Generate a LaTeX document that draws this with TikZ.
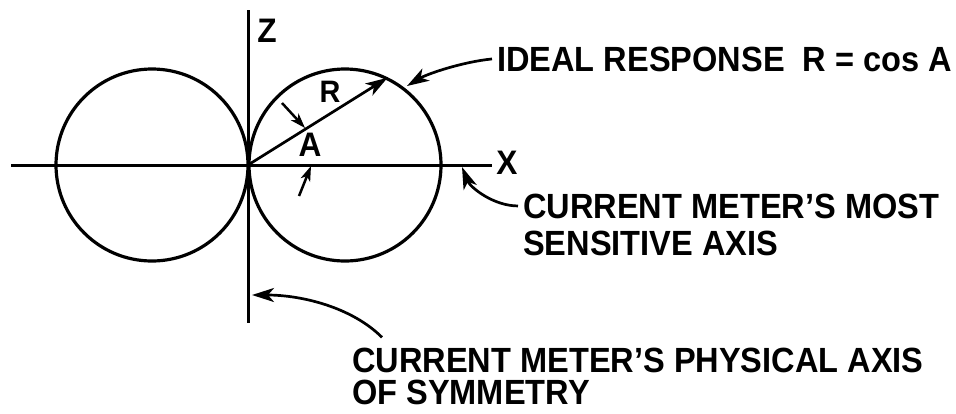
\documentclass[tikz,border=0pt]{standalone}
\usepackage{fontspec}
\setmainfont{Liberation Sans}[FakeStretch=0.93]
\usetikzlibrary{arrows.meta,positioning}

\begin{document}
\begin{tikzpicture}[x=1pt,y=-1pt,
    axis/.style={line width=3pt},
    lobe/.style={line width=3.2pt},
    ptr/.style={line width=2.7pt,-{Stealth[length=22pt,width=14pt,inset=6pt]}},
    tick/.style={line width=2.5pt,-{Stealth[length=15pt,width=10pt,inset=4pt]}},
    lbl/.style={inner xsep=5pt,inner ysep=0pt,anchor=base west,font=\fontsize{35}{40}\selectfont\bfseries},
    axlbl/.style={inner sep=0pt,font=\fontsize{34}{40}\selectfont\bfseries}]
  \useasboundingbox (0,0) rectangle (956,413);
  \coordinate (O) at (248,165);
  % axes and the two lobes
  \draw[axis] (11,165) -- (492,165);
  \draw[axis] (248,10) -- (248,323);
  \foreach \cx in {152,345}{\draw[lobe] (\cx,165) circle (96pt);}
  \node[axlbl] (zlab) at (267,31) {Z};
  \node[axlbl] (xlab) at (507,163) {X};
  % response vector and angle
  \coordinate (rtip) at ([shift={(-32:164.5)}]O);
  \draw[ptr] (O) -- (rtip);
  \node[axlbl,font=\fontsize{31}{36}\selectfont\bfseries] (rlab) at (330,92) {R};
  \node[axlbl] (alab) at (310,145) {A};
  \coordinate (atop) at (282,103);
  \coordinate (atoptip) at (305,128);
  \coordinate (abot) at (299,196);
  \coordinate (abottip) at (311,166);
  \draw[tick] (atop) -- (atoptip);
  \draw[tick] (abot) -- (abottip);
  % labels with pointers
  \node[lbl] (ideal) at (492,71) {IDEAL RESPONSE~~R = cos A};
  \node[lbl] (most) at (518,218) {CURRENT METER'S MOST};
  \node[lbl] (sens) at (518,255) {SENSITIVE AXIS};
  \node[lbl] (phys) at (347,372) {CURRENT METER'S PHYSICAL AXIS};
  \node[lbl] (sym) at (347,404) {OF SYMMETRY};
  \coordinate (idealtip) at (407,86);
  \coordinate (xtip) at (462,167);
  \coordinate (ztip) at (252,295);
  \draw[ptr] (ideal.west) .. controls +(-30,3) and +(20,-12) .. (idealtip);
  \draw[ptr] (most.west) .. controls +(-25,0) and +(8,20) .. (xtip);
  \draw[ptr] ([xshift=35pt,yshift=10pt]phys.north west) .. controls +(-30,-30) and +(50,0) .. (ztip);
\end{tikzpicture}
\end{document}
